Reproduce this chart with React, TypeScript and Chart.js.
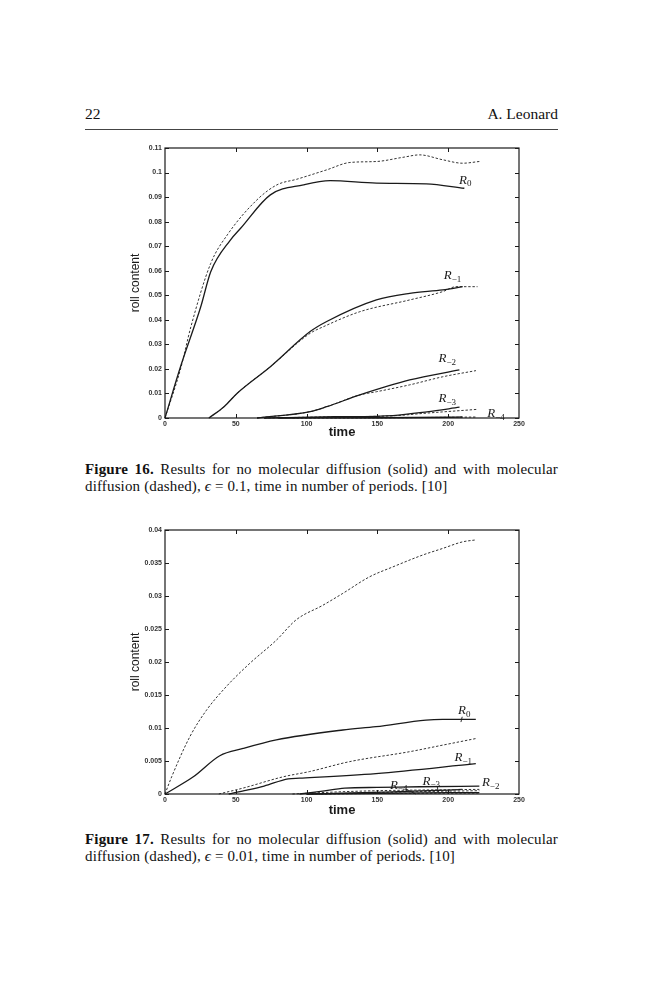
import React, { useEffect, useRef } from "react";
import { Chart, registerables } from "chart.js";
Chart.register(...registerables);

// ---------- shared axis ticks ----------
const xTickValues = [0, 50, 100, 150, 200, 250];
const xInnerTicks = [50, 100, 150, 200];
const f16YTicks = [0, 0.01, 0.02, 0.03, 0.04, 0.05, 0.06, 0.07, 0.08, 0.09, 0.1, 0.11];
const f17YTicks = [0, 0.005, 0.01, 0.015, 0.02, 0.025, 0.03, 0.035, 0.04];

// ---------- Figure 16 (epsilon = 0.1) ----------
const f16R0SolidT = [0, 11, 25.3, 32.3, 46.3, 53.4, 74.4, 97.8, 116.6, 149.3, 184.5, 211.4];
const f16R0SolidV = [0, 0.021, 0.0454, 0.0596, 0.0726, 0.0773, 0.0909, 0.095, 0.0967, 0.0957, 0.0954, 0.0936];
const f16R0DashT = [0, 11, 18.3, 32.3, 44, 65, 79.1, 93.2, 114.2, 130.6, 149.3, 168, 179.8, 196.2, 210.2, 222];
const f16R0DashV = [0, 0.02, 0.0372, 0.063, 0.0746, 0.0889, 0.095, 0.0973, 0.1011, 0.1041, 0.1045, 0.1062, 0.1072, 0.1052, 0.1038, 0.1045];
const f16R1SolidT = [31, 41.7, 51, 74.4, 102.5, 114.2, 149.3, 172.8, 196.2, 210.2];
const f16R1SolidV = [0, 0.0046, 0.0101, 0.0209, 0.0352, 0.0393, 0.0481, 0.0508, 0.0522, 0.0535];
const f16R1DashT = [31, 41.7, 51, 74.4, 102.5, 111.9, 137.6, 172.8, 196.2, 205.5, 220.7];
const f16R1DashV = [0, 0.0046, 0.0101, 0.0209, 0.0345, 0.0372, 0.0433, 0.0481, 0.0515, 0.0535, 0.0535];
const f16R2SolidT = [65, 102.5, 114.2, 137.6, 172.8, 207.9];
const f16R2SolidV = [0, 0.0026, 0.0046, 0.0094, 0.0155, 0.0196];
const f16R2DashT = [65, 102.5, 114.2, 137.6, 149.3, 172.8, 196.2, 219.6];
const f16R2DashV = [0, 0.0026, 0.0046, 0.0094, 0.0107, 0.0135, 0.0168, 0.0193];
const f16R3SolidT = [70, 120, 161, 185, 208];
const f16R3SolidV = [0, 0.0005, 0.001, 0.0025, 0.0044];
const f16R3DashT = [70, 120, 161, 185, 220];
const f16R3DashV = [0, 0.0005, 0.0009, 0.002, 0.0035];
const f16R4SolidT = [80, 150, 200, 210];
const f16R4SolidV = [0, 0.0001, 0.0003, 0.0004];
const f16R4DashT = [90, 160, 220];
const f16R4DashV = [0, 0.0001, 0.0004];
const f16LabelSub = ["0", "\u22121", "\u22122", "\u22123", "\u22124"];
const f16LabelX = [212, 203, 199.4, 199.4, 233.8];
const f16LabelY = [0.097, 0.0582, 0.0244, 0.0081, 0.002];

// ---------- Figure 17 (epsilon = 0.01) ----------
const f17R0SolidT = [0, 20, 38.7, 55.2, 78.6, 125.6, 149, 184.3, 196, 219.5];
const f17R0SolidV = [0, 0.0026, 0.0058, 0.0069, 0.0082, 0.0097, 0.0102, 0.0112, 0.0113, 0.0113];
const f17R0DashT = [0, 4.7, 17.6, 29.3, 43.4, 59.9, 78.6, 92.7, 111.5, 125.6, 144.4, 160.8, 181.9, 196, 210.1, 219.5];
const f17R0DashV = [0, 0.0026, 0.0087, 0.0127, 0.0163, 0.0198, 0.0233, 0.0264, 0.0286, 0.0304, 0.0329, 0.0344, 0.0362, 0.0372, 0.0382, 0.0385];
const f17R1SolidT = [45, 56, 70, 87, 95, 149, 219.5];
const f17R1SolidV = [0, 0.0005, 0.0012, 0.0023, 0.0024, 0.0031, 0.0046];
const f17R1DashT = [38, 55.2, 83.3, 102.1, 130.3, 172.5, 196, 219.5];
const f17R1DashV = [0, 0.0009, 0.0026, 0.0034, 0.0049, 0.0064, 0.0074, 0.0084];
const f17R2SolidT = [95, 110, 127, 150, 180, 222];
const f17R2SolidV = [0, 0.0004, 0.0009, 0.001, 0.0011, 0.0012];
const f17R2DashT = [90, 120, 150, 180, 222];
const f17R2DashV = [0, 0.0003, 0.0005, 0.0006, 0.0007];
const f17R3SolidT = [100, 140, 170, 200, 210];
const f17R3SolidV = [0, 0.0002, 0.0004, 0.0006, 0.0007];
const f17R3DashT = [100, 150, 190, 222];
const f17R3DashV = [0, 0.0002, 0.0004, 0.0005];
const f17R4SolidT = [100, 150, 200, 222];
const f17R4SolidV = [0, 0.0001, 0.0002, 0.0002];
const f17R4DashT = [110, 160, 222];
const f17R4DashV = [0, 0.0001, 0.00015];
const f17LabelSub = ["0", "\u22121", "\u22122", "\u22123", "\u22124"];
const f17LabelX = [211.4, 210.7, 230, 188, 165];
const f17LabelY = [0.0127, 0.0056, 0.0018, 0.002, 0.0014];
// leader lines (from label to curve), in data units
const f17LeaderX0 = [209.9, 192.3, 169.7];
const f17LeaderY0 = [0.0117, 0.0011, 0.0008];
const f17LeaderX1 = [209, 193, 177];
const f17LeaderY1 = [0.0109, 0.0003, 0.0];

const INK = "#1a1a1a";

function pts(t: number[], v: number[]) {
  return t.map((x, i) => ({ x, y: v[i] }));
}

function solid(t: number[], v: number[]) {
  return { data: pts(t, v), borderColor: INK, borderWidth: 1.3, clip: 6, fill: false };
}
function dashed(t: number[], v: number[]) {
  return { data: pts(t, v), borderColor: "#333", borderWidth: 1, borderDash: [2.4, 1.8], clip: 6, fill: false };
}

function makeFrame(
  yTicks: number[],
  labelSub: string[],
  labelX: number[],
  labelY: number[],
  leaders?: { x0: number[]; y0: number[]; x1: number[]; y1: number[] }
) {
  return {
    id: "frame",
    afterDatasetsDraw(chart: any) {
      const { ctx, chartArea } = chart;
      const { left, right, top, bottom } = chartArea;
      const xs = chart.scales.x;
      const ys = chart.scales.y;
      ctx.save();
      ctx.strokeStyle = INK;
      ctx.lineWidth = 1.2;
      ctx.strokeRect(left, top, right - left, bottom - top);
      ctx.lineWidth = 1;
      ctx.beginPath();
      for (const v of yTicks) {
        const py = Math.round(ys.getPixelForValue(v)) + 0.5;
        ctx.moveTo(left, py);
        ctx.lineTo(left + 4, py);
        ctx.moveTo(right - 4, py);
        ctx.lineTo(right, py);
      }
      for (const v of xInnerTicks) {
        const px = Math.round(xs.getPixelForValue(v)) + 0.5;
        ctx.moveTo(px, top);
        ctx.lineTo(px, top + 4);
        ctx.moveTo(px, bottom);
        ctx.lineTo(px, bottom - 4);
      }
      ctx.stroke();
      if (leaders) {
        ctx.beginPath();
        ctx.lineWidth = 0.9;
        for (let i = 0; i < leaders.x0.length; i++) {
          ctx.moveTo(xs.getPixelForValue(leaders.x0[i]), ys.getPixelForValue(leaders.y0[i]));
          ctx.lineTo(xs.getPixelForValue(leaders.x1[i]), ys.getPixelForValue(leaders.y1[i]));
        }
        ctx.stroke();
      }
      ctx.fillStyle = INK;
      ctx.textBaseline = "alphabetic";
      ctx.textAlign = "left";
      for (let i = 0; i < labelSub.length; i++) {
        const px = xs.getPixelForValue(labelX[i]);
        const py = ys.getPixelForValue(labelY[i]);
        const bigFont = 'italic 13px "Liberation Serif", "DejaVu Serif", serif';
        const smallFont = '9px "Liberation Serif", "DejaVu Serif", serif';
        ctx.font = bigFont;
        const wR = ctx.measureText("R").width;
        ctx.font = smallFont;
        const wS = ctx.measureText(labelSub[i]).width;
        const x0 = px - (wR + wS) / 2;
        const base = py + 4;
        ctx.font = bigFont;
        ctx.fillText("R", x0, base);
        ctx.font = smallFont;
        ctx.fillText(labelSub[i], x0 + wR, base + 2.5);
      }
      ctx.restore();
    },
  };
}

const tickFont = { family: '"Liberation Sans", Arial, sans-serif', size: 7, weight: "bold" as const };

function buildConfig(
  datasets: any[],
  yMax: number,
  yTicks: number[],
  bottomH: number,
  frame: any
) {
  return {
    type: "line" as const,
    data: { datasets },
    options: {
      responsive: false,
      animation: false as const,
      events: [],
      layout: { padding: { top: 10, right: 21, left: 0, bottom: 0 } },
      plugins: { legend: { display: false }, tooltip: { enabled: false } },
      elements: {
        point: { radius: 0 },
        line: { tension: 0.35, cubicInterpolationMode: "monotone" as const },
      },
      scales: {
        x: {
          type: "linear" as const,
          min: 0,
          max: 250,
          afterBuildTicks: (s: any) => {
            s.ticks = xTickValues.map((v) => ({ value: v }));
          },
          afterFit: (s: any) => {
            s.height = bottomH;
          },
          grid: { display: false, drawTicks: false },
          border: { display: false },
          ticks: {
            padding: 2,
            autoSkip: false,
            maxRotation: 0,
            color: "#333",
            font: tickFont,
            callback: (v: any) => String(v),
          },
          title: {
            display: true,
            text: "time",
            color: INK,
            padding: 0,
            font: { family: '"Liberation Sans", Arial, sans-serif', size: 13, weight: "bold" as const },
          },
        },
        y: {
          type: "linear" as const,
          min: 0,
          max: yMax,
          afterBuildTicks: (s: any) => {
            s.ticks = yTicks.map((v) => ({ value: v }));
          },
          afterFit: (s: any) => {
            s.width = 45;
          },
          grid: { display: false, drawTicks: false },
          border: { display: false },
          ticks: {
            padding: 3,
            autoSkip: false,
            color: "#333",
            font: tickFont,
            callback: (v: any) => String(Number(Number(v).toFixed(4))),
          },
          title: {
            display: true,
            text: "roll content",
            color: INK,
            padding: { top: 8, bottom: 0 },
            font: { family: '"Liberation Sans", Arial, sans-serif', size: 12 },
          },
        },
      },
    },
    plugins: [frame],
  };
}

function fig16Config() {
  const datasets = [
    solid(f16R0SolidT, f16R0SolidV),
    dashed(f16R0DashT, f16R0DashV),
    solid(f16R1SolidT, f16R1SolidV),
    dashed(f16R1DashT, f16R1DashV),
    solid(f16R2SolidT, f16R2SolidV),
    dashed(f16R2DashT, f16R2DashV),
    solid(f16R3SolidT, f16R3SolidV),
    dashed(f16R3DashT, f16R3DashV),
    solid(f16R4SolidT, f16R4SolidV),
    dashed(f16R4DashT, f16R4DashV),
  ];
  return buildConfig(datasets, 0.11, f16YTicks, 22, makeFrame(f16YTicks, f16LabelSub, f16LabelX, f16LabelY));
}

function fig17Config() {
  const datasets = [
    solid(f17R0SolidT, f17R0SolidV),
    dashed(f17R0DashT, f17R0DashV),
    solid(f17R1SolidT, f17R1SolidV),
    dashed(f17R1DashT, f17R1DashV),
    solid(f17R2SolidT, f17R2SolidV),
    dashed(f17R2DashT, f17R2DashV),
    solid(f17R3SolidT, f17R3SolidV),
    dashed(f17R3DashT, f17R3DashV),
    solid(f17R4SolidT, f17R4SolidV),
    dashed(f17R4DashT, f17R4DashV),
  ];
  return buildConfig(
    datasets,
    0.04,
    f17YTicks,
    24,
    makeFrame(f17YTicks, f17LabelSub, f17LabelX, f17LabelY, {
      x0: f17LeaderX0,
      y0: f17LeaderY0,
      x1: f17LeaderX1,
      y1: f17LeaderY1,
    })
  );
}

function ChartBox(props: { make: () => any; left: number; top: number; width: number; height: number }) {
  const ref = useRef<HTMLCanvasElement | null>(null);
  useEffect(() => {
    const chart = new Chart(ref.current as HTMLCanvasElement, props.make());
    return () => chart.destroy();
  }, []);
  return (
    <div style={{ position: "absolute", left: props.left, top: props.top, width: props.width, height: props.height }}>
      <canvas
        ref={ref}
        width={props.width}
        height={props.height}
        style={{ display: "block", width: props.width, height: props.height }}
      />
    </div>
  );
}

const serif = '"Liberation Serif", "Times New Roman", serif';

function CaptionLine(props: { top: number; children: any; justify?: boolean }) {
  return (
    <div
      style={{
        position: "absolute",
        left: 85,
        top: props.top,
        width: 473,
        fontFamily: serif,
        fontSize: 15,
        letterSpacing: "0.15px",
        lineHeight: "17px",
        color: "#111",
        whiteSpace: "nowrap",
        textAlign: props.justify ? "justify" : "left",
        textAlignLast: props.justify ? "justify" : "left",
      }}
    >
      {props.children}
    </div>
  );
}

export default function App() {
  return (
    <div
      style={{
        position: "absolute",
        left: 0,
        top: 0,
        width: 659,
        height: 1000,
        background: "#fff",
        overflow: "hidden",
      }}
    >
      <div
        style={{
          position: "absolute",
          left: 85,
          top: 104,
          width: 473,
          fontFamily: serif,
          fontSize: 15.5,
          lineHeight: "20px",
          color: "#111",
          display: "flex",
          justifyContent: "space-between",
        }}
      >
        <span>22</span>
        <span>A. Leonard</span>
      </div>
      <div style={{ position: "absolute", left: 85, top: 129, width: 473, height: 0, borderTop: "0.8px solid #444" }} />

      <ChartBox make={fig16Config} left={120} top={138} width={420} height={302} />
      <CaptionLine top={461} justify>
        <b>Figure 16.</b> Results for no molecular diffusion (solid) and with molecular
      </CaptionLine>
      <CaptionLine top={478}>
        diffusion (dashed), <i>{"\u03F5"}</i> = 0.1, time in number of periods. [10]
      </CaptionLine>

      <ChartBox make={fig17Config} left={120} top={520} width={420} height={298} />
      <CaptionLine top={831} justify>
        <b>Figure 17.</b> Results for no molecular diffusion (solid) and with molecular
      </CaptionLine>
      <CaptionLine top={848}>
        diffusion (dashed), <i>{"\u03F5"}</i> = 0.01, time in number of periods. [10]
      </CaptionLine>
    </div>
  );
}
